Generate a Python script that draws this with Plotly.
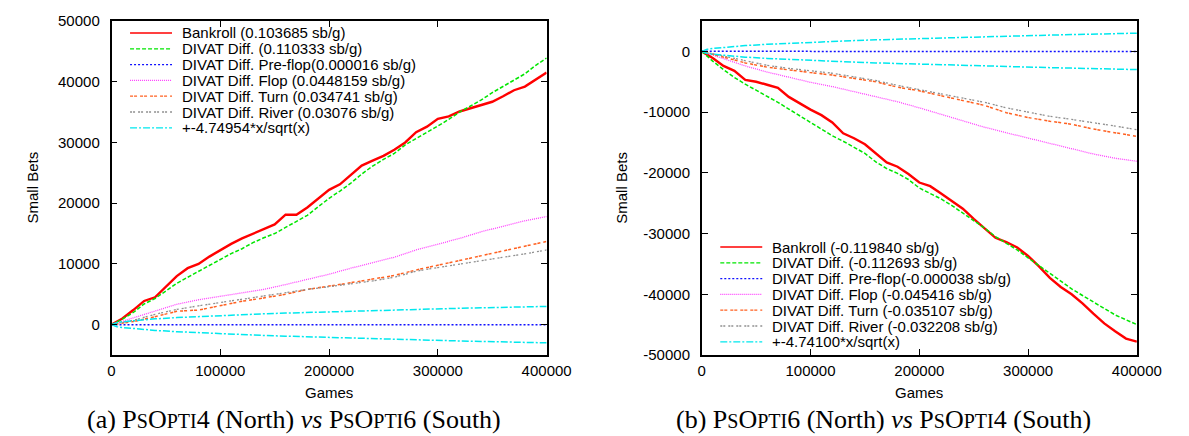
import plotly.graph_objects as go

W, H = 1189, 436
TOP, BOTTOM = 13, 347  # pixel rows of both plot frames
SANS = "Liberation Sans, Arial, sans-serif"
SERIF = "Liberation Serif, Times New Roman, serif"

games_fine = list(range(0, 400001, 10000))
games = list(range(0, 400001, 20000))
games_bound = [0, 5000, 10000] + list(range(20000, 400001, 20000))

# (a) PsOpti4 vs PsOpti6
a_bankroll = [0, 1000, 2400, 3900, 4500, 6300, 8000, 9300, 10000, 11200, 12300,
              13300, 14200, 15000, 15700, 16500, 18100, 18100, 19300, 20700, 22200,
              23100, 24600, 26200, 27000, 27800, 28800, 30000, 31700, 32600, 33900,
              34300, 35100, 35600, 36100, 36700, 37600, 38600, 39200, 40300, 41500]
a_divat = [0, 900, 2000, 3400, 4300, 5500, 6800, 7800, 8800, 9800, 10800,
           11700, 12500, 13500, 14300, 15000, 16000, 17000, 18000, 19400, 20800,
           22000, 23300, 24800, 26100, 27200, 28200, 29600, 30600, 31700, 32700,
           33800, 35000, 36000, 37000, 38200, 39200, 40200, 41300, 42700, 43900]
a_preflop = [0, 0, 0, 0, 0, 0, 0, 0, 0, 0, 0, 0, 0, 0, 0, 0, 0, 0, 0, 0, 0]
a_flop = [0, 1100, 2300, 3350, 4100, 4700, 5250, 5800, 6600, 7450, 8300,
          9300, 10200, 11100, 12300, 13200, 14200, 15300, 16200, 17100, 17800]
a_turn = [0, 500, 1300, 2200, 2400, 3100, 3850, 4400, 5000, 5800, 6300,
          6900, 7500, 8100, 9000, 9800, 10550, 11300, 12100, 13000, 13700]
a_river = [0, 700, 1700, 2500, 3100, 3650, 4150, 4700, 5250, 5800, 6250,
           6700, 7200, 7800, 8800, 9400, 9950, 10500, 11000, 11650, 12300]
a_bound = [0, 340, 470, 670, 950, 1160, 1340, 1500, 1650, 1780, 1900, 2010,
           2130, 2230, 2330, 2420, 2510, 2600, 2690, 2770, 2850, 2930, 3000]

# (b) PsOpti6 vs PsOpti4
b_bankroll = [0, -1100, -2400, -3200, -4700, -5000, -5500, -6000, -7500, -8600, -9600,
              -10500, -11700, -13500, -14300, -15300, -16800, -18300, -19000, -20200, -21600,
              -22200, -23400, -24600, -25900, -27600, -29200, -30700, -31400, -32300, -33700,
              -35400, -37300, -38800, -40000, -41500, -43200, -44800, -46100, -47300, -47800]
b_divat = [0, -1600, -3000, -4300, -5400, -6400, -7300, -8400, -9500, -10600, -11700,
           -12800, -13900, -14800, -15800, -16800, -18200, -19300, -20100, -21100, -22500,
           -23400, -24300, -25400, -26600, -27800, -29100, -30500, -31600, -32700, -34000,
           -35300, -36500, -37800, -39100, -40200, -41300, -42400, -43400, -44200, -45000]
b_preflop = [0, 0, 0, 0, 0, 0, 0, 0, 0, 0, 0, 0, 0, 0, 0, 0, 0, 0, 0, 0, -10]
b_flop = [0, -1200, -2400, -3400, -4300, -5100, -5800, -6600, -7400, -8300, -9300,
          -10400, -11500, -12500, -13400, -14300, -15200, -16100, -16900, -17600, -18100]
b_turn = [0, -1000, -1900, -2600, -3100, -3500, -3900, -4400, -5000, -5900, -6500,
          -7300, -8100, -8900, -10100, -10900, -11500, -12000, -12800, -13400, -14000]
b_river = [0, -800, -1600, -2300, -2800, -3200, -3600, -4200, -4800, -5600, -6300,
           -7100, -7700, -8400, -9300, -10000, -10700, -11200, -11700, -12300, -12900]
b_bound = [0, 340, 470, 670, 950, 1160, 1340, 1500, 1640, 1770, 1900, 2010,
           2120, 2220, 2320, 2420, 2510, 2600, 2680, 2760, 2840, 2920, 3000]

a_labels = ["Bankroll (0.103685 sb/g)", "DIVAT Diff. (0.110333 sb/g)",
            "DIVAT Diff. Pre-flop(0.000016 sb/g)", "DIVAT Diff. Flop (0.0448159 sb/g)",
            "DIVAT Diff. Turn (0.034741 sb/g)", "DIVAT Diff. River (0.03076 sb/g)",
            "+-4.74954*x/sqrt(x)"]
b_labels = ["Bankroll (-0.119840 sb/g)", "DIVAT Diff. (-0.112693 sb/g)",
            "DIVAT Diff. Pre-flop(-0.000038 sb/g)", "DIVAT Diff. Flop (-0.045416 sb/g)",
            "DIVAT Diff. Turn (-0.035107 sb/g)", "DIVAT Diff. River (-0.032208 sb/g)",
            "+-4.74100*x/sqrt(x)"]

STYLES = [
    dict(color="#ff0000", width=2.4, dash="solid"),
    dict(color="#00e600", width=1.5, dash="4px,2px"),
    dict(color="#1010ff", width=1.5, dash="2px,2px"),
    dict(color="#ff40ff", width=1.3, dash="1px,1px"),
    dict(color="#ff6020", width=1.5, dash="3px,1px,3px,3px"),
    dict(color="#909090", width=1.3, dash="2px,1px,2px,3px"),
    dict(color="#00e8ee", width=1.5, dash="7px,2px,2px,2px"),
]


def px(x):
    return x / W


def py(y):
    return (BOTTOM - y) / (BOTTOM - TOP)


fig = go.Figure()


def add_panel(xa, ya, bankroll, divat, preflop, flop, turn, river, bound):
    series = [(games_fine, bankroll), (games_fine, divat), (games, preflop),
              (games, flop), (games, turn), (games, river)]
    for (xs, ys), style in zip(series, STYLES):
        fig.add_trace(go.Scatter(x=xs, y=ys, mode="lines", line=style,
                                 xaxis=xa, yaxis=ya, showlegend=False, hoverinfo="skip"))
    for sign in (1, -1):
        fig.add_trace(go.Scatter(x=games_bound, y=[sign * v for v in bound], mode="lines",
                                 line=STYLES[6], xaxis=xa, yaxis=ya,
                                 showlegend=False, hoverinfo="skip"))


def add_key(labels, x0, y0):
    for i, (label, style) in enumerate(zip(labels, STYLES)):
        y = y0 + 15.8 * i
        fig.add_shape(type="line", xref="paper", yref="paper",
                      x0=px(x0), x1=px(x0 + 43), y0=py(y), y1=py(y),
                      line=dict(color=style["color"], width=1.3, dash=style["dash"]))
        fig.add_annotation(text=label, xref="paper", yref="paper", x=px(x0 + 51), y=py(y),
                           xanchor="left", yanchor="middle", showarrow=False,
                           font=dict(family=SANS, size=15, color="black"))


add_panel("x", "y", a_bankroll, a_divat, a_preflop, a_flop, a_turn, a_river, a_bound)
add_panel("x2", "y2", b_bankroll, b_divat, b_preflop, b_flop, b_turn, b_river, b_bound)
add_key(a_labels, 121, 25)
add_key(b_labels, 726, 239)

xticks = [0, 100000, 200000, 300000, 400000]
a_yticks = [0, 10000, 20000, 30000, 40000, 50000]
b_yticks = [0, -10000, -20000, -30000, -40000, -50000]

axis_common = dict(showline=True, linecolor="black", linewidth=1.5, mirror="ticks",
                   ticks="inside", ticklen=6, tickwidth=1, tickcolor="black",
                   showgrid=False, zeroline=False,
                   tickfont=dict(family=SANS, size=15, color="black"))
x_common = dict(range=[0, 400000], tickvals=xticks, ticktext=[str(v) for v in xticks],
                ticklabelstandoff=1, **axis_common)

fig.update_layout(
    width=W, height=H,
    margin=dict(l=0, r=0, t=TOP, b=H - BOTTOM),
    plot_bgcolor="white", paper_bgcolor="white",
    xaxis=dict(domain=[px(102), px(548)], anchor="y", **x_common),
    yaxis=dict(domain=[0, 1], range=[-5000, 50000], anchor="x", ticklabelstandoff=7,
               tickvals=a_yticks, ticktext=[str(v) for v in a_yticks], **axis_common),
    xaxis2=dict(domain=[px(707), px(1153)], anchor="y2", **x_common),
    yaxis2=dict(domain=[0, 1], range=[-50000, 5000], anchor="x2", ticklabelstandoff=7,
                tickvals=b_yticks, ticktext=[str(v) for v in b_yticks], **axis_common),
)

for cx in (325, 930):
    fig.add_annotation(text="Games", xref="paper", yref="paper", x=px(cx), y=py(385),
                       xanchor="center", yanchor="middle", showarrow=False,
                       font=dict(family=SANS, size=15, color="black"))
for cx in (20, 624):
    fig.add_annotation(text="Small Bets", xref="paper", yref="paper", x=px(cx), y=py(180),
                       xanchor="center", yanchor="middle", textangle=-90, showarrow=False,
                       font=dict(family=SANS, size=15, color="black"))


def small_caps(s):
    return f"<span style='font-size:20px'>{s}</span>"


def opti(n):
    return f"P{small_caps('S')}O{small_caps('PTI')}{n}"


captions = [
    (289, f"(a) {opti(4)} (North) <i>vs</i> {opti(6)} (South)"),
    (893, f"(b) {opti(6)} (North) <i>vs</i> {opti(4)} (South)"),
]
for cx, text in captions:
    fig.add_annotation(text=text, xref="paper", yref="paper", x=px(cx), y=py(411),
                       xanchor="center", yanchor="middle", showarrow=False,
                       font=dict(family=SERIF, size=26, color="black"))

fig.write_html("out.html")
